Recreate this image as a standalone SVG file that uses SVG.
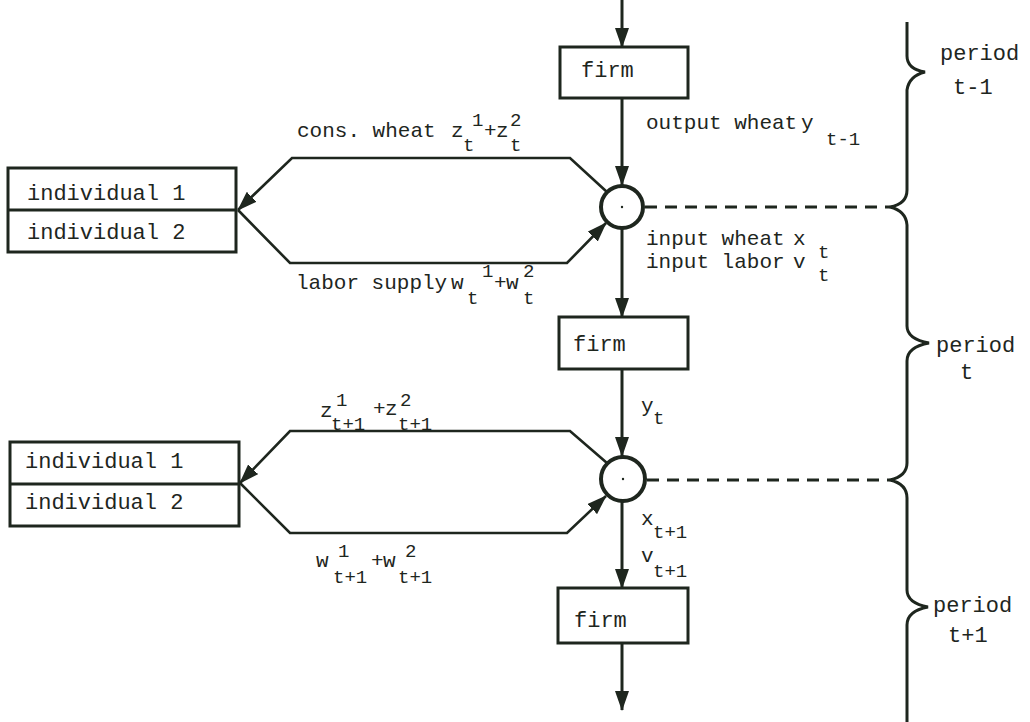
<svg xmlns="http://www.w3.org/2000/svg" width="1030" height="722" viewBox="0 0 1030 722">
<defs>
<style>
.box{fill:#fff;stroke:#1e261e;stroke-width:3}
.ln{fill:none;stroke:#1e261e;stroke-width:2.6;stroke-linejoin:miter}
.vl{fill:none;stroke:#1e261e;stroke-width:3}
.dash{fill:none;stroke:#1e261e;stroke-width:3;stroke-dasharray:12 8}
.circ{fill:#fff;stroke:#1e261e;stroke-width:4}
.brace{fill:none;stroke:#1e261e;stroke-width:3}
text{font-family:"Liberation Mono","Courier New",monospace;fill:#1e261e}
.t{font-size:21px}
.s{font-size:19px}
.b{font-size:22px}
</style>
<marker id="arr" markerUnits="userSpaceOnUse" markerWidth="20" markerHeight="14" refX="19" refY="7" orient="auto">
<path d="M0,0 L20,7 L0,14 Z" fill="#1e261e"/>
</marker>
</defs>
<rect width="1030" height="722" fill="#fff"/>

<g id="connectors">
<line class="vl" x1="622" y1="0" x2="622" y2="47" marker-end="url(#arr)"/>
<line class="vl" x1="622" y1="98" x2="622" y2="185" marker-end="url(#arr)"/>
<line class="vl" x1="622" y1="228" x2="622" y2="317" marker-end="url(#arr)"/>
<line class="vl" x1="622" y1="369" x2="622" y2="456" marker-end="url(#arr)"/>
<line class="vl" x1="622" y1="501" x2="622" y2="588" marker-end="url(#arr)"/>
<line class="vl" x1="622" y1="643" x2="622" y2="710" marker-end="url(#arr)"/>
<path class="ln" d="M607,192 L570,158 L292,158 L238,210" marker-end="url(#arr)"/>
<path class="ln" d="M238,210 L290,263 L567,263 L606,223" marker-end="url(#arr)"/>
<path class="ln" d="M607,463 L570,431 L290,431 L240,483" marker-end="url(#arr)"/>
<path class="ln" d="M240,483 L290,533 L567,533 L606,496" marker-end="url(#arr)"/>
<line class="dash" x1="645" y1="207" x2="890" y2="207"/>
<line class="dash" x1="647" y1="480" x2="890" y2="480"/>
</g>

<g id="firm1">
<rect class="box" x="560" y="47" width="128" height="51"/>
<text class="b" x="581" y="77">firm</text>
</g>
<g id="firm2">
<rect class="box" x="559" y="317" width="129" height="52"/>
<text class="b" x="573" y="351">firm</text>
</g>
<g id="firm3">
<rect class="box" x="558" y="588" width="130" height="55"/>
<text class="b" x="574" y="627">firm</text>
</g>

<g id="junction1">
<circle class="circ" cx="622" cy="207" r="21"/>
<circle cx="622" cy="207" r="1.2" fill="#1e261e"/>
</g>
<g id="junction2">
<circle class="circ" cx="623" cy="479" r="22"/>
<circle cx="623" cy="479" r="1.2" fill="#1e261e"/>
</g>

<g id="individuals1">
<rect class="box" x="8" y="168" width="228" height="84"/>
<line class="vl" x1="8" y1="210" x2="236" y2="210"/>
<text class="b" x="27" y="200">individual 1</text>
<text class="b" x="27" y="239">individual 2</text>
</g>
<g id="individuals2">
<rect class="box" x="10" y="442" width="229" height="84"/>
<line class="vl" x1="10" y1="484" x2="239" y2="484"/>
<text class="b" x="25" y="468">individual 1</text>
<text class="b" x="25" y="509">individual 2</text>
</g>

<g id="labels">
<text class="t" x="297" y="137">cons. wheat</text>
<text class="t" x="451" y="137">z</text>
<text class="s" x="463" y="151">t</text>
<text class="s" x="472" y="126">1</text>
<text class="t" x="484" y="137">+</text>
<text class="t" x="496" y="137">z</text>
<text class="s" x="510" y="126">2</text>
<text class="s" x="510" y="151">t</text>

<text class="t" x="296" y="289">labor supply</text>
<text class="t" x="451" y="289">w</text>
<text class="s" x="467" y="304">t</text>
<text class="s" x="482" y="277">1</text>
<text class="t" x="494" y="289">+</text>
<text class="t" x="506" y="289">w</text>
<text class="s" x="523" y="277">2</text>
<text class="s" x="523" y="304">t</text>

<text class="t" x="646" y="129">output wheat</text>
<text class="t" x="801" y="129">y</text>
<text class="s" x="826" y="145">t-1</text>

<text class="t" x="646" y="245">input wheat</text>
<text class="t" x="793" y="245">x</text>
<text class="s" x="818" y="258">t</text>
<text class="t" x="646" y="268">input labor</text>
<text class="t" x="793" y="268">v</text>
<text class="s" x="818" y="281">t</text>

<text class="t" x="641" y="412">y</text>
<text class="s" x="653" y="424">t</text>

<text class="t" x="320" y="417">z</text>
<text class="s" x="331" y="430">t+1</text>
<text class="s" x="336" y="406">1</text>
<text class="t" x="373" y="415">+</text>
<text class="t" x="385" y="415">z</text>
<text class="s" x="400" y="406">2</text>
<text class="s" x="398" y="430">t+1</text>

<text class="t" x="316" y="567">w</text>
<text class="s" x="333" y="583">t+1</text>
<text class="s" x="338" y="557">1</text>
<text class="t" x="371" y="567">+</text>
<text class="t" x="383" y="567">w</text>
<text class="s" x="405" y="557">2</text>
<text class="s" x="398" y="583">t+1</text>

<text class="t" x="641" y="525">x</text>
<text class="s" x="653" y="538">t+1</text>
<text class="t" x="641" y="562">v</text>
<text class="s" x="653" y="577">t+1</text>
</g>

<g id="periods">
<path class="brace" d="M907,22 L907,56 Q907,69 925,72 Q909,76 907,90 L907,190 Q907,204 890,207 Q906,211 907,225 L907,326 Q907,339 929,343 Q907,347 907,361 L907,463 Q907,476 890,480 Q907,484 907,498 L907,590 Q907,603 928,607 Q907,611 907,625 L907,722"/>
<text class="b" x="940" y="60">period</text>
<text class="b" x="953" y="94">t-1</text>
<text class="b" x="936" y="352">period</text>
<text class="b" x="960" y="379">t</text>
<text class="b" x="933" y="612">period</text>
<text class="b" x="948" y="642">t+1</text>
</g>
</svg>
